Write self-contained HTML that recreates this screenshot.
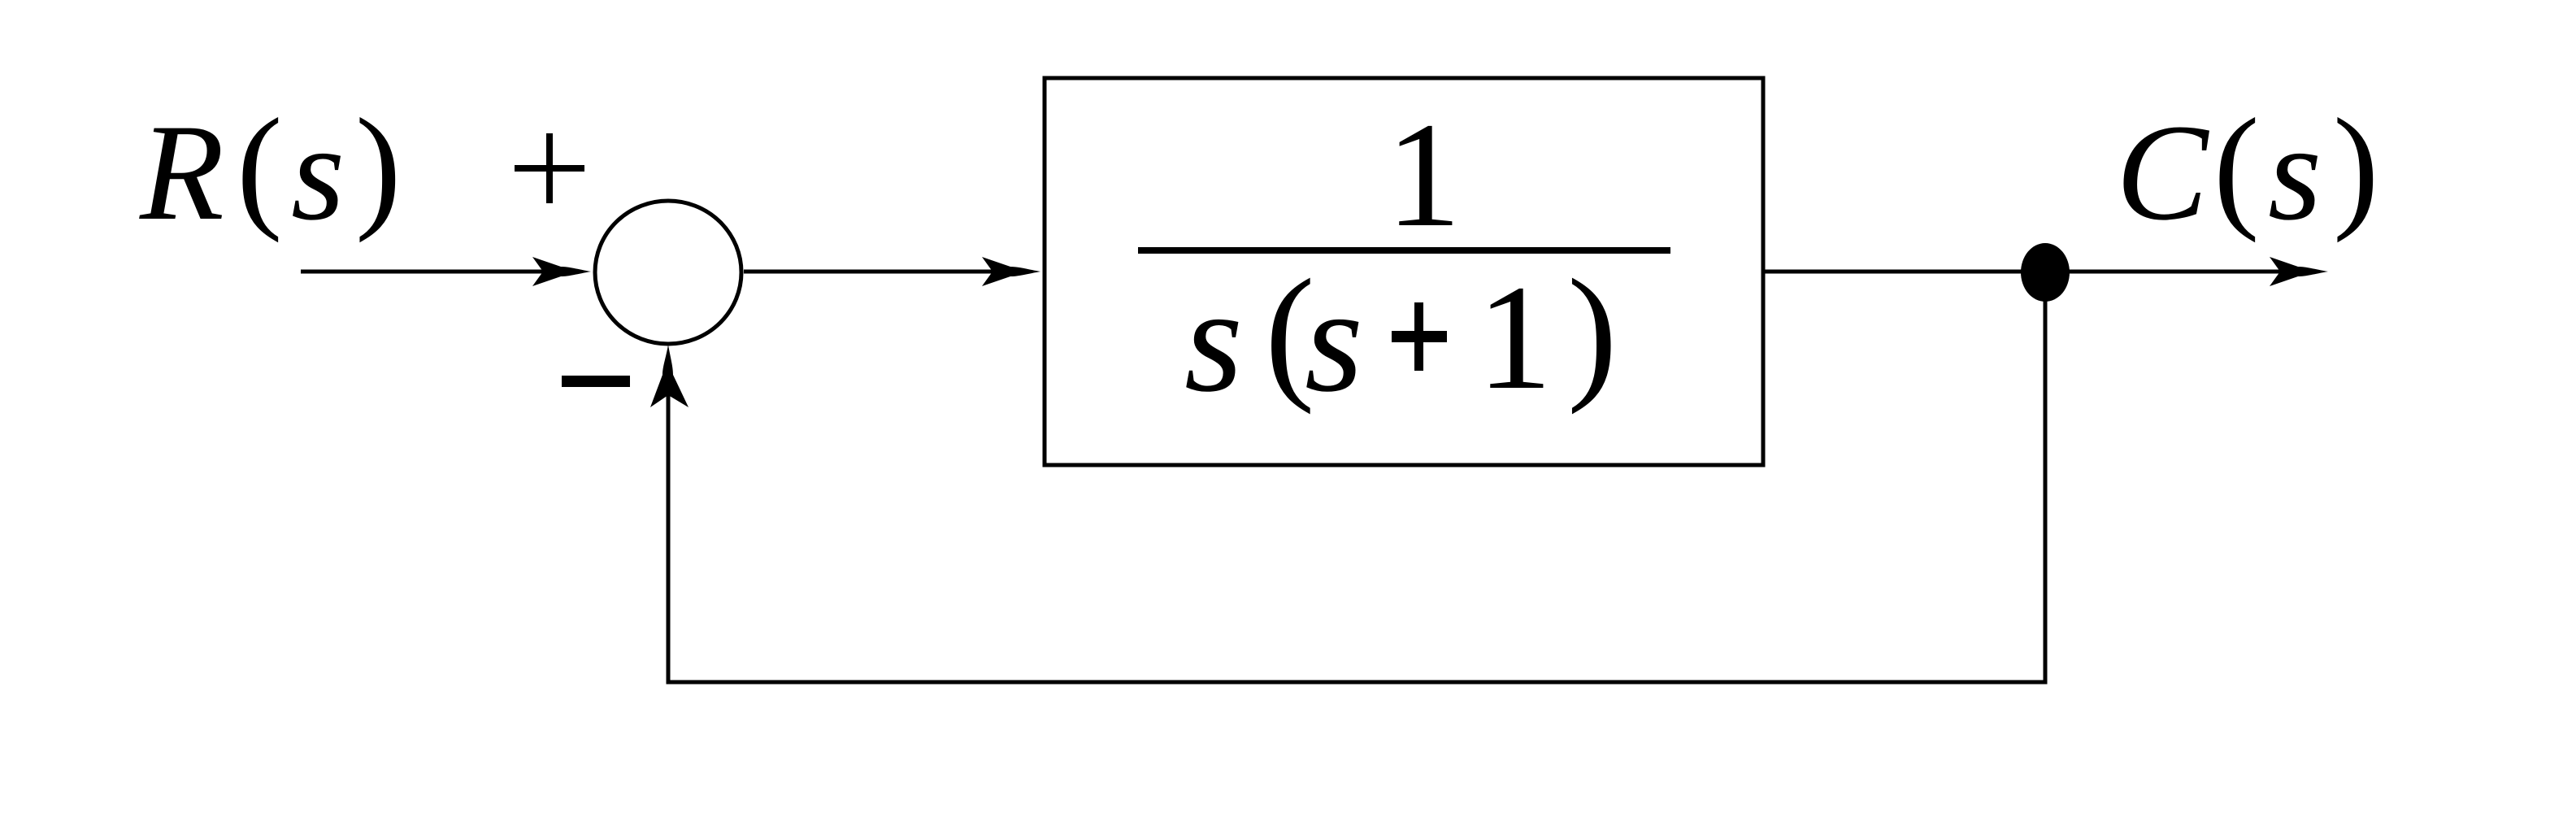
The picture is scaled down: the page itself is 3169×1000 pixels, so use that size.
<!DOCTYPE html>
<html><head><meta charset="utf-8"><style>html,body{margin:0;padding:0;background:#fff}svg{display:block}</style></head>
<body>
<svg width="3169" height="1000" viewBox="0 0 3169 1000" xmlns="http://www.w3.org/2000/svg" font-family="Liberation Serif, serif">
<rect width="3169" height="1000" fill="#fff"/>
<g stroke="#000" fill="none">
<line x1="370" y1="334" x2="700" y2="334" stroke-width="5"/>
<ellipse cx="822" cy="335" rx="90" ry="88" stroke-width="5"/>
<line x1="915" y1="334" x2="1250" y2="334" stroke-width="5"/>
<rect x="1285" y="96" width="884" height="476" stroke-width="5"/>
<line x1="1400" y1="308" x2="2055" y2="308" stroke-width="8"/>
<line x1="2170" y1="334" x2="2840" y2="334" stroke-width="5"/>
<polyline points="2516,335 2516,839 822,839 822,470" stroke-width="5"/>
</g>
<g fill="#000">
<path d="M727,334 C710,337 700,340 690,340 L655,352 L668,334 L655,316 L690,328 C700,328 710,331 727,334 Z"/>
<path d="M1280,334 C1263,337 1253,340 1243,340 L1208,352 L1221,334 L1208,316 L1243,328 C1253,328 1263,331 1280,334 Z"/>
<path d="M2864,334 C2847,337 2837,340 2827,340 L2792,352 L2805,334 L2792,316 L2827,328 C2837,328 2847,331 2864,334 Z"/>
<path d="M822,424 C825,441 828,451 828,461 L847,501 L822,486 L800,501 L815,461 C815,451 819,441 822,424 Z"/>
<ellipse cx="2516" cy="335" rx="30" ry="36"/>
<rect x="672" y="164" width="8" height="86"/>
<rect x="633" y="203" width="86" height="8"/>
<rect x="691" y="462" width="84" height="14"/>
</g>
<g fill="#000" font-size="185">
<text x="1705" y="277">1</text>
<text x="1457" y="480" font-style="italic">s</text>
<text x="1556" y="470">(</text>
<text x="1605" y="480" font-style="italic">s</text>
<rect x="1712" y="407" width="68" height="14"/>
<rect x="1740" y="372" width="11" height="84"/>
<text x="1817" y="477">1</text>
<text x="1928" y="470">)</text>
</g>
<g fill="#000" font-size="170">
<text x="172" y="269" font-style="italic">R</text>
<text x="291" y="262">(</text>
<text x="358" y="269" font-style="italic">s</text>
<text x="437" y="262">)</text>
<text x="2603" y="269" font-style="italic">C</text>
<text x="2723" y="262">(</text>
<text x="2790" y="269" font-style="italic">s</text>
<text x="2870" y="262">)</text>
</g>
</svg>
</body></html>
